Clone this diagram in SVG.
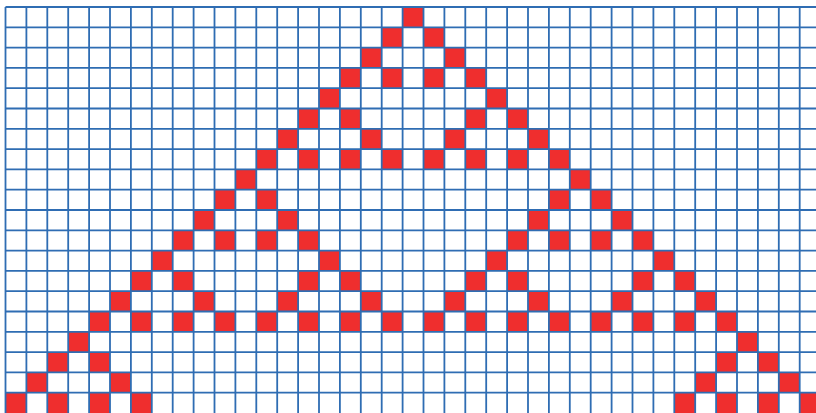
<svg xmlns="http://www.w3.org/2000/svg" width="816" height="413" viewBox="0 0 816 413">
<style>
.c{fill:#ef2e2e}
.g{stroke:#2f6db3;stroke-width:1.8;fill:none}
</style>
<defs><rect id="r" width="20.9" height="20.3"/></defs>
<rect width="816" height="413" fill="#fff"/>
<g id="cells" class="c">
<use href="#r" x="402.6" y="7"/>
<use href="#r" x="381.7" y="27.3"/><use href="#r" x="423.5" y="27.3"/>
<use href="#r" x="360.8" y="47.6"/><use href="#r" x="444.4" y="47.6"/>
<use href="#r" x="339.9" y="67.9"/><use href="#r" x="381.7" y="67.9"/><use href="#r" x="423.5" y="67.9"/><use href="#r" x="465.3" y="67.9"/>
<use href="#r" x="319" y="88.2"/><use href="#r" x="486.2" y="88.2"/>
<use href="#r" x="298.1" y="108.5"/><use href="#r" x="339.9" y="108.5"/><use href="#r" x="465.3" y="108.5"/><use href="#r" x="507.1" y="108.5"/>
<use href="#r" x="277.2" y="128.8"/><use href="#r" x="360.8" y="128.8"/><use href="#r" x="444.4" y="128.8"/><use href="#r" x="528" y="128.8"/>
<use href="#r" x="256.3" y="149.1"/><use href="#r" x="298.1" y="149.1"/><use href="#r" x="339.9" y="149.1"/><use href="#r" x="381.7" y="149.1"/><use href="#r" x="423.5" y="149.1"/><use href="#r" x="465.3" y="149.1"/><use href="#r" x="507.1" y="149.1"/><use href="#r" x="548.9" y="149.1"/>
<use href="#r" x="235.4" y="169.4"/><use href="#r" x="569.8" y="169.4"/>
<use href="#r" x="214.5" y="189.7"/><use href="#r" x="256.3" y="189.7"/><use href="#r" x="548.9" y="189.7"/><use href="#r" x="590.7" y="189.7"/>
<use href="#r" x="193.6" y="210"/><use href="#r" x="277.2" y="210"/><use href="#r" x="528" y="210"/><use href="#r" x="611.6" y="210"/>
<use href="#r" x="172.7" y="230.3"/><use href="#r" x="214.5" y="230.3"/><use href="#r" x="256.3" y="230.3"/><use href="#r" x="298.1" y="230.3"/><use href="#r" x="507.1" y="230.3"/><use href="#r" x="548.9" y="230.3"/><use href="#r" x="590.7" y="230.3"/><use href="#r" x="632.5" y="230.3"/>
<use href="#r" x="151.8" y="250.6"/><use href="#r" x="319" y="250.6"/><use href="#r" x="486.2" y="250.6"/><use href="#r" x="653.4" y="250.6"/>
<use href="#r" x="130.9" y="270.9"/><use href="#r" x="172.7" y="270.9"/><use href="#r" x="298.1" y="270.9"/><use href="#r" x="339.9" y="270.9"/><use href="#r" x="465.3" y="270.9"/><use href="#r" x="507.1" y="270.9"/><use href="#r" x="632.5" y="270.9"/><use href="#r" x="674.3" y="270.9"/>
<use href="#r" x="110" y="291.2"/><use href="#r" x="193.6" y="291.2"/><use href="#r" x="277.2" y="291.2"/><use href="#r" x="360.8" y="291.2"/><use href="#r" x="444.4" y="291.2"/><use href="#r" x="528" y="291.2"/><use href="#r" x="611.6" y="291.2"/><use href="#r" x="695.2" y="291.2"/>
<use href="#r" x="89.1" y="311.5"/><use href="#r" x="130.9" y="311.5"/><use href="#r" x="172.7" y="311.5"/><use href="#r" x="214.5" y="311.5"/><use href="#r" x="256.3" y="311.5"/><use href="#r" x="298.1" y="311.5"/><use href="#r" x="339.9" y="311.5"/><use href="#r" x="381.7" y="311.5"/><use href="#r" x="423.5" y="311.5"/><use href="#r" x="465.3" y="311.5"/><use href="#r" x="507.1" y="311.5"/><use href="#r" x="548.9" y="311.5"/><use href="#r" x="590.7" y="311.5"/><use href="#r" x="632.5" y="311.5"/><use href="#r" x="674.3" y="311.5"/><use href="#r" x="716.1" y="311.5"/>
<use href="#r" x="68.2" y="331.8"/><use href="#r" x="737" y="331.8"/>
<use href="#r" x="47.3" y="352.1"/><use href="#r" x="89.1" y="352.1"/><use href="#r" x="716.1" y="352.1"/><use href="#r" x="757.9" y="352.1"/>
<use href="#r" x="26.4" y="372.4"/><use href="#r" x="110" y="372.4"/><use href="#r" x="695.2" y="372.4"/><use href="#r" x="778.8" y="372.4"/>
<use href="#r" x="5.5" y="392.7"/><use href="#r" x="47.3" y="392.7"/><use href="#r" x="89.1" y="392.7"/><use href="#r" x="130.9" y="392.7"/><use href="#r" x="674.3" y="392.7"/><use href="#r" x="716.1" y="392.7"/><use href="#r" x="757.9" y="392.7"/><use href="#r" x="799.7" y="392.7"/>
</g>
<g id="grid" class="g">
<path d="M5.5 7V413M26.4 7V413M47.3 7V413M68.2 7V413M89.1 7V413M110 7V413M130.9 7V413M151.8 7V413M172.7 7V413M193.6 7V413M214.5 7V413M235.4 7V413M256.3 7V413M277.2 7V413M298.1 7V413M319 7V413M339.9 7V413M360.8 7V413M381.7 7V413M402.6 7V413M423.5 7V413M444.4 7V413M465.3 7V413M486.2 7V413M507.1 7V413M528 7V413M548.9 7V413M569.8 7V413M590.7 7V413M611.6 7V413M632.5 7V413M653.4 7V413M674.3 7V413M695.2 7V413M716.1 7V413M737 7V413M757.9 7V413M778.8 7V413M799.7 7V413"/>
<path d="M5.5 7H816M5.5 27.3H816M5.5 47.6H816M5.5 67.9H816M5.5 88.2H816M5.5 108.5H816M5.5 128.8H816M5.5 149.1H816M5.5 169.4H816M5.5 189.7H816M5.5 210H816M5.5 230.3H816M5.5 250.6H816M5.5 270.9H816M5.5 291.2H816M5.5 311.5H816M5.5 331.8H816M5.5 352.1H816M5.5 372.4H816M5.5 392.7H816"/>
</g>
</svg>
